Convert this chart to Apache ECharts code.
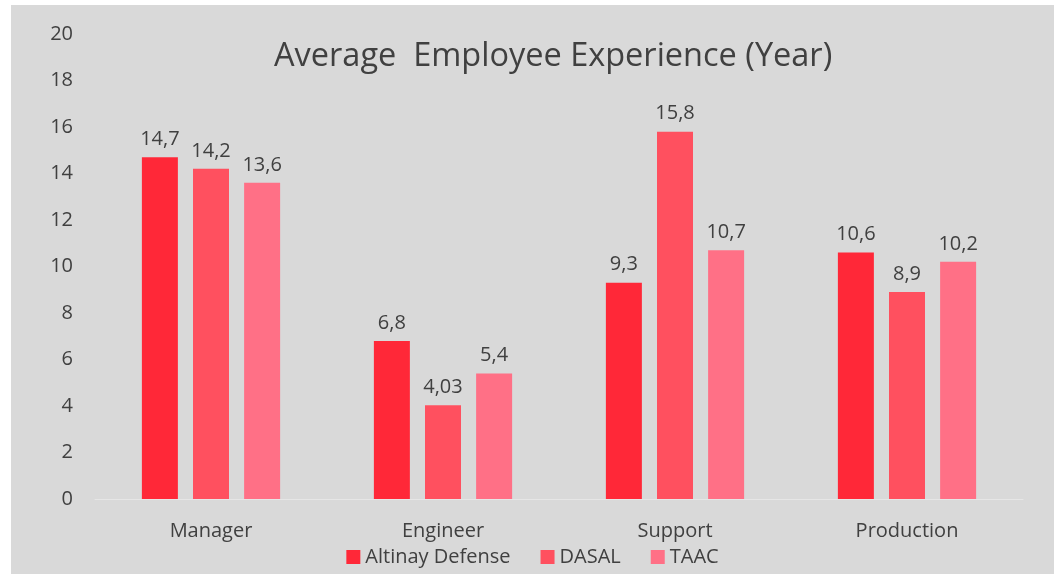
<!DOCTYPE html>
<html>
<head>
<meta charset="utf-8">
<script src="https://cdn.jsdelivr.net/npm/echarts@6/dist/echarts.min.js"></script>
<style>
  html, body { margin: 0; padding: 0; background: #fff; }
  #chart {
    position: absolute;
    left: 11px;
    top: 5px;
    width: 1043px;
    height: 569px;
    background: #d9d9d9;
  }
</style>
</head>
<body>
<div id="chart"></div>
<script>
const categories = ['Manager', 'Engineer', 'Support', 'Production'];
const seriesNames = ['Altinay Defense', 'DASAL', 'TAAC'];
const altinay = [14.7, 6.8, 9.3, 10.6];
const dasal = [14.2, 4.03, 15.8, 8.9];
const taac = [13.6, 5.4, 10.7, 10.2];
const colors = ['#ff2838', '#ff505f', '#ff7086'];

const font = '"Open Sans", "Liberation Sans", sans-serif';
const textColor = '#404040';

function makeSeries(name, data, i) {
  return {
    name: name,
    type: 'bar',
    data: data,
    barWidth: 36,
    barGap: '42%',
    itemStyle: { color: colors[i] },
    label: {
      show: true,
      position: 'top',
      distance: 8,
      color: textColor,
      fontFamily: font,
      fontSize: 20,
      formatter: function (p) { return String(p.value).replace('.', ','); }
    }
  };
}

const myChart = echarts.init(document.getElementById('chart'));
const option = {
  animation: false,
  textStyle: { fontFamily: font },
  title: {
    text: 'Average  Employee Experience (Year)',
    left: 258,
    top: 30,
    textStyle: { color: textColor, fontFamily: font, fontSize: 32.5, fontWeight: 'normal' }
  },
  legend: {
    bottom: 2,
    left: 'center',
    itemWidth: 14,
    itemHeight: 14,
    itemGap: 30,
    icon: 'rect',
    textStyle: { color: textColor, fontFamily: font, fontSize: 20 },
    data: seriesNames
  },
  grid: {
    left: 84,
    top: 29,
    width: 928,
    height: 465
  },
  xAxis: {
    type: 'category',
    data: categories,
    axisTick: { show: false },
    axisLine: { lineStyle: { color: '#e6e6e6', width: 1 } },
    axisLabel: { color: textColor, fontFamily: font, fontSize: 20, margin: 22 }
  },
  yAxis: {
    type: 'value',
    min: 0,
    max: 20,
    interval: 2,
    splitLine: { show: false },
    axisLine: { show: false },
    axisTick: { show: false },
    axisLabel: { color: textColor, fontFamily: font, fontSize: 20, margin: 22 }
  },
  series: [
    makeSeries(seriesNames[0], altinay, 0),
    makeSeries(seriesNames[1], dasal, 1),
    makeSeries(seriesNames[2], taac, 2)
  ]
};
myChart.setOption(option);
</script>
</body>
</html>
